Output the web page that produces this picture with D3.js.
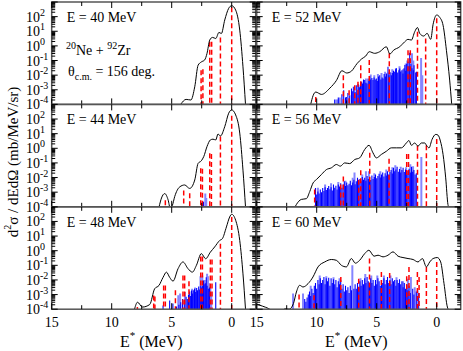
<!DOCTYPE html>
<meta charset="utf-8">
<title>20Ne + 92Zr excitation spectra</title>
<style>
body { margin: 0; background: #fff; }
svg { font-family: "Liberation Serif", "Times New Roman", serif; background: #fff; }
</style>
<script src="https://cdn.jsdelivr.net/npm/d3@7"></script>
<body>
<script>

// ---- data: [E* (MeV), d2sigma/dEdOmega (mb/MeV/sr)] ----
var curve40 = [[4.25,1e-4],[3.8,2.2e-4],[3.4,2e-4],[3.08,1.6e-3],[2.8,4.8e-2],[2.53,8e-2],[2.25,1.1e-1],[2.06,3e-1],[1.83,2.5],[1.6,3.8],[1.33,3.2],[1.06,8.3],[0.86,7],[0.58,59],[0.25,370],[0,560],[-0.33,280],[-0.67,12],[-0.94,3.7e-2],[-1.15,1e-4]];
var red40 = [[2.55,2.2e-2],[2.4,2.5e-2],[1.83,1.9],[1.67,1.9],[0.94,3.8],[0,440]];
var dark40 = [];
var light40 = [];

var curve44 = [[6.05,1e-4],[5.85,4e-4],[5.58,8e-4],[5.3,3e-4],[5.12,8e-5],[4.95,1.2e-4],[4.75,5e-4],[4.33,2.3e-3],[3.92,3.1e-3],[3.5,1.8e-3],[3.08,6.8e-3],[2.8,9.3e-2],[2.53,1.4e-1],[2.33,2.7e-1],[2.06,1.3],[1.78,3.7],[1.56,4.2],[1.33,3.7],[1.14,9.5],[0.94,6.9],[0.58,30],[0.25,250],[0,420],[-0.33,190],[-0.67,11],[-0.94,3.2e-2],[-1.15,1e-4]];
var red44 = [[5.53,2.8e-4],[4.0,1.3e-3],[3.5,8.3e-4],[2.58,4.3e-2],[2.44,4e-2],[1.83,4.6e-1],[1.69,4e-1],[0.94,6.3],[0,170]];
var dark44 = [[2.42,1.6e-4],[2.35,2.2e-4]];
var light44 = [[2.2,8e-4],[2.12,4e-4]];

var curve48 = [[8.1,1e-4],[7.85,3e-4],[7.44,1.4e-4],[6.83,2.1e-4],[6.42,2.5e-3],[6.06,4.2e-3],[5.72,1.5e-2],[5.44,3.4e-2],[5.17,1.5e-2],[4.89,8.3e-3],[4.47,5.9e-2],[4.06,1.7e-1],[3.64,5.9e-2],[3.28,3.4e-2],[2.94,1e-1],[2.53,6.3e-1],[2.17,2.8e-1],[1.78,7.9e-1],[1.42,1.8],[1.0,5],[0.78,6.6],[0.44,42],[0.17,200],[0,310],[-0.33,120],[-0.67,5],[-0.94,2.6e-2],[-1.15,1e-4]];
var red48 = [[7.86,1.4e-4],[6.5,8.7e-4],[6.4,7.4e-4],[5.67,4.2e-3],[5.53,4.2e-3],[4.69,2e-3],[4.06,2e-2],[3.92,2e-2],[3.56,8.3e-3],[2.58,4e-1],[2.44,4e-1],[1.78,2.5e-1],[1.64,2.5e-1],[0.94,3],[0,200]];
var dark48 = [[5.72,1.8e-4],[5.17,4e-4],[4.9,2.5e-4],[4.6,1.5e-4],[4.4,2e-4],[4.25,3e-4],[4.1,5e-4],[3.95,4e-4],[3.8,7e-4],[3.7,5e-4],[3.6,1e-3],[3.5,1.6e-3],[3.42,8e-4],[3.35,1.9e-3],[3.28,1.2e-3],[3.2,2e-3],[3.1,2.5e-3],[3.0,1.5e-3],[2.92,2.8e-3],[2.85,2e-3],[2.75,3.5e-3],[2.67,2.2e-3],[2.58,4.2e-3],[2.5,3e-3],[2.42,3.8e-3],[2.35,9e-3],[2.3,5e-3],[2.2,6e-3],[2.12,1.5e-2],[2.05,4e-3],[1.95,2.5e-3],[1.85,3e-3],[1.33,7e-3]];
var light48 = [[4.45,9e-4],[4.3,1.2e-3],[3.9,1.5e-3],[3.3,2.5e-3],[3.05,3e-3],[2.6,1.8e-2],[2.45,2e-2],[2.25,1e-2],[2.05,2.6e-2],[1.98,1.8e-2],[1.9,6e-3],[1.78,3e-3],[1.7,1.5e-3]];

var curve52 = [[10.5,1e-4],[10.3,4e-4],[10.08,7e-4],[9.6,4.8e-4],[8.9,1.3e-3],[8.36,4.3e-3],[7.9,2e-2],[7.5,1.4e-2],[7.1,1.9e-2],[6.65,6e-2],[6.25,1.3e-1],[5.92,2e-1],[5.62,4e-1],[5.17,3.1e-1],[4.75,4e-1],[4.2,8.7e-1],[3.9,2.8e-1],[3.6,5e-1],[3.08,8.7e-1],[2.67,1.9],[2.39,2.8],[2.11,2.5],[1.83,9.3],[1.6,18],[1.42,7.2],[1.08,4.7],[0.8,7.2],[0.5,2.8],[0.3,30],[0,130],[-0.25,90],[-0.53,26],[-0.81,5e-1],[-1.08,4.6e-3],[-1.25,1e-4]];
var red52 = [[10.08,3.2e-4],[7.78,1e-2],[7.3,9.3e-4],[6.83,2e-3],[6.56,3.5e-3],[6.33,4.8e-2],[5.62,1.1e-1],[3.95,3.1e-1],[2.39,5.1e-1],[2.2,5e-1],[1.6,9.3],[0.92,3.2],[0,76]];
var dark52 = [[8.5,2.2e-4],[8.2,3e-4],[7.9,5e-4],[7.75,9.3e-4],[7.6,3e-4],[7.53,3.2e-4],[7.4,6e-4],[7.25,4.3e-4],[7.1,1.2e-3],[7.0,8e-4],[6.9,1.6e-3],[6.8,7e-4],[6.7,2e-3],[6.64,5.6e-4],[6.55,2.5e-3],[6.45,1.5e-3],[6.35,2.7e-3],[6.25,3.5e-3],[6.19,2.7e-3],[6.1,5e-3],[6.0,4.6e-3],[5.9,3e-3],[5.81,2.7e-3],[5.72,6e-3],[5.65,4e-3],[5.58,8.5e-3],[5.5,5e-3],[5.4,6.5e-3],[5.31,4.6e-3],[5.22,7e-3],[5.12,5e-3],[5.03,5.9e-3],[4.95,4e-3],[4.85,8e-3],[4.75,1e-2],[4.65,5e-3],[4.55,7e-3],[4.47,6e-3],[4.38,1.2e-2],[4.28,8e-3],[4.19,1.3e-2],[4.06,3.7e-2],[3.98,1e-2],[3.88,1.6e-2],[3.78,1e-2],[3.7,1.4e-2],[3.6,2e-2],[3.5,1.7e-2],[3.42,2.5e-2],[3.36,3e-2],[3.25,1.5e-2],[3.15,2.2e-2],[3.08,2.9e-2],[3.0,1.8e-2],[2.9,2.2e-2],[2.81,1.3e-2],[2.72,3e-2],[2.65,5e-2],[2.58,2e-2],[2.5,6e-2],[2.39,8.1e-2],[2.3,4e-2],[2.25,3.4e-1],[2.15,6e-2],[2.06,3e-2],[1.95,2.2e-2],[1.89,4.8e-2],[1.75,1.5e-2],[1.69,1.7e-2]];
var light52 = [[8.36,2.2e-4],[8.25,2.2e-4],[8.08,3e-4],[6.92,1.6e-3],[6.5,2e-3],[5.9,6e-3],[5.5,1.1e-2],[5.2,1e-2],[4.9,1.2e-2],[4.6,1.4e-2],[4.3,1.7e-2],[4.0,1.5e-2],[3.7,2.5e-2],[3.4,3e-2],[3.1,4e-2],[2.81,2.5e-2],[2.58,6.3e-2],[2.45,1e-1],[2.06,3.1e-1],[1.95,1e-1],[1.3,1.5e-1],[1.2,1e-2]];

var curve56 = [[11.8,1e-4],[11.7,1.4e-4],[11.28,3.2e-4],[10.86,3.6e-4],[10.58,1.1e-3],[10.3,4.3e-3],[10.03,7.2e-3],[9.61,1.6e-2],[9.19,3.5e-2],[8.78,4.6e-2],[8.36,7.8e-2],[8.03,6e-2],[7.67,1e-1],[7.25,9e-2],[6.83,1.7e-1],[6.42,2.2e-1],[6.0,8.3e-1],[5.64,1.6],[5.31,4.9e-1],[5.03,2.2e-1],[4.61,3.8e-1],[4.19,6.3e-1],[3.78,1.07],[3.36,1.07],[2.94,1.07],[2.53,2.3],[2.31,3.4],[2.11,1.6],[1.83,2.3],[1.56,1.4],[1.28,2.3],[1.0,2.3],[0.81,1.4],[0.64,1.07],[0.39,4],[0.08,8.9],[-0.11,7.9],[-0.31,3.1],[-0.53,3.8e-1],[-0.75,9.5e-3],[-0.94,1.4e-4],[-1.0,1e-4]];
var red56 = [[10.17,1.5e-3],[8.0,3.3e-3],[7.78,1.2e-2],[6.5,7.2e-3],[6.33,3.2e-2],[5.58,5e-1],[3.97,1.9e-1],[2.5,4e-1],[2.35,4e-1],[1.6,1.5],[0.86,1.6],[0,4.3]];
var dark56 = [[10.1,1.9e-3],[10.0,6.9e-4],[9.9,1.1e-3],[9.8,8e-4],[9.7,1.5e-3],[9.6,1e-3],[9.5,1.9e-3],[9.4,1.2e-3],[9.3,2.2e-3],[9.2,1.4e-3],[9.1,1.9e-3],[9.0,2.6e-3],[8.9,1.6e-3],[8.8,2.2e-3],[8.7,1.3e-3],[8.6,3.3e-3],[8.5,2e-3],[8.4,2.7e-3],[8.3,1.5e-3],[8.2,3.3e-3],[8.1,2.4e-3],[8.0,4e-3],[7.9,2e-3],[7.8,3.3e-3],[7.7,5.6e-3],[7.6,2.6e-3],[7.5,4.5e-3],[7.4,3e-3],[7.3,3.8e-3],[7.2,6e-3],[7.1,3e-3],[7.0,4.5e-3],[6.9,7e-3],[6.8,3.5e-3],[6.7,5.6e-3],[6.6,9.5e-3],[6.5,4.5e-3],[6.4,8e-3],[6.3,5.6e-3],[6.2,1.1e-2],[6.1,7e-3],[6.0,9.5e-3],[5.9,6e-3],[5.8,1.3e-2],[5.7,8e-3],[5.6,1e-2],[5.5,6.9e-3],[5.4,1.4e-2],[5.3,8e-3],[5.2,1.1e-2],[5.1,1.6e-2],[5.0,9e-3],[4.9,1.3e-2],[4.8,1.8e-2],[4.7,1e-2],[4.6,1.6e-2],[4.5,2.2e-2],[4.4,1.2e-2],[4.3,2e-2],[4.2,1.4e-2],[4.1,2.7e-2],[4.0,1.6e-2],[3.9,2.4e-2],[3.8,3.3e-2],[3.7,1.9e-2],[3.6,4.6e-2],[3.5,2.7e-2],[3.4,3.5e-2],[3.3,5.5e-2],[3.2,2.5e-2],[3.1,3.8e-2],[3.0,2.2e-2],[2.9,3.3e-2],[2.8,4.6e-2],[2.7,2.4e-2],[2.6,3.5e-2],[2.5,1.8e-2],[2.4,2.8e-2],[2.3,4e-2],[2.2,2.2e-2],[2.1,5.5e-2],[2.0,2.5e-2],[1.9,3.3e-2],[1.8,1.6e-2],[1.7,2e-2]];
var light56 = [[9.9,2e-3],[9.3,3.3e-3],[8.8,4e-3],[8.2,5e-3],[7.6,6e-3],[7.0,9.5e-3],[6.85,2.2e-2],[6.2,1.6e-2],[5.9,2.7e-2],[5.65,2.7e-2],[5.2,2e-2],[4.7,2.7e-2],[4.2,3.5e-2],[3.7,5e-2],[3.45,7e-2],[3.0,5.5e-2],[2.55,5e-2],[2.2,8e-2],[1.97,6e-2],[1.28,2.5e-1]];

var curve60 = [[15,2.2e-4],[14.5,1.6e-4],[14.0,1.1e-4],[13.7,8e-5],[12.9,8e-5],[12.6,1.1e-4],[12.3,1e-4],[11.94,2.4e-4],[11.69,1.5e-3],[11.42,4.3e-3],[11.14,3.3e-3],[10.72,5.6e-3],[10.31,1.6e-2],[9.89,7.8e-2],[9.33,1.7e-1],[8.78,2.5e-1],[8.36,2.2e-1],[7.94,1e-1],[7.53,7.8e-2],[7.11,2.9e-1],[6.78,1.4e-1],[6.42,2.2e-1],[6.0,6.3e-1],[5.65,1.07],[5.22,4.2e-1],[4.89,4.9e-1],[4.47,3.8e-1],[4.06,4.9e-1],[3.64,8.3e-1],[3.22,4.2e-1],[2.81,3.4e-1],[2.39,2.9e-1],[1.97,2.5e-1],[1.56,1.7e-1],[1.19,2.9e-1],[0.86,7.8e-2],[0.58,1.7e-1],[0.3,2.9e-1],[-0.05,3.4e-1],[-0.33,1.7e-1],[-0.61,5.6e-3],[-0.89,1.4e-4],[-0.95,1e-4]];
var red60 = [[11.47,1e-3],[10.22,9e-4],[7.99,1.6e-2],[6.5,1.2e-2],[5.6,2.9e-1],[4.61,3.5e-2],[3.92,3e-2],[2.5,1.8e-2],[2.31,7.8e-2],[1.61,3.5e-2],[1.47,1.6e-2],[0.86,7.8e-2],[0,1.7e-1]];
var dark60 = [[11.0,5e-4],[10.9,3.2e-4],[10.8,6.3e-4],[10.7,1e-3],[10.6,1.6e-3],[10.5,8e-4],[10.4,2.5e-3],[10.3,1.3e-3],[10.2,4e-3],[10.1,6.3e-3],[10.0,2.5e-3],[9.9,1e-2],[9.8,5e-3],[9.7,1.3e-2],[9.6,6.3e-3],[9.5,1e-2],[9.4,1.6e-2],[9.3,5e-3],[9.2,1.3e-2],[9.1,8e-3],[9.0,1.4e-2],[8.9,4e-3],[8.8,1.3e-2],[8.7,6.3e-3],[8.6,1.1e-2],[8.5,5e-3],[8.4,1e-2],[8.3,3.2e-3],[8.2,8e-3],[8.1,5e-3],[8.0,1e-2],[7.9,2.5e-3],[7.8,5e-3],[7.7,1.6e-3],[7.6,4e-3],[7.5,2e-3],[7.4,3.2e-3],[7.3,1.3e-3],[7.2,4e-3],[7.1,2e-3],[6.9,2.5e-3],[6.8,5e-3],[6.7,2.5e-3],[6.6,6.3e-3],[6.5,3.2e-3],[6.4,8e-3],[6.3,4e-3],[6.2,1e-2],[6.1,5e-3],[6.0,1.3e-2],[5.9,6.3e-3],[5.8,1.6e-2],[5.7,8e-3],[5.6,4e-3],[5.5,1.3e-2],[5.4,6.3e-3],[5.3,1e-2],[5.2,4e-3],[5.1,1e-2],[5.0,5e-3],[4.9,1.3e-2],[4.8,8e-3],[4.7,4e-3],[4.6,1e-2],[4.5,6.3e-3],[4.4,1.3e-2],[4.3,5e-3],[4.2,1e-2],[4.1,1.6e-2],[4.0,6.3e-3],[3.9,1e-2],[3.8,5e-3],[3.7,1.3e-2],[3.6,8e-3],[3.5,1e-2],[3.4,4e-3],[3.3,1e-2],[3.2,6.3e-3],[3.1,1.1e-2],[3.0,5e-3],[2.9,8e-3],[2.8,3.2e-3],[2.7,6.3e-3],[2.6,2.5e-3],[2.5,5e-3],[2.4,2e-3],[2.3,4e-3],[2.2,1.3e-3],[2.0,2.5e-3],[1.9,1e-3],[1.7,1.6e-3],[1.5,1.3e-3]];
var light60 = [[11.97,1.2e-3],[11.14,1.2e-3],[10.5,4e-3],[9.75,2e-2],[9.2,1.8e-2],[8.6,1.5e-2],[8.1,1.3e-2],[7.03,1e-1],[6.35,1.3e-2],[5.95,2.5e-2],[5.45,2e-2],[4.95,2e-2],[4.4,2e-2],[3.85,2e-2],[3.35,1.5e-2],[2.8,8e-3],[2.4,1.2e-2],[2.15,1.6e-2],[1.83,3.2e-3],[1.6,2e-3]];

var xTicks = [15, 12.5, 10, 7.5, 5, 2.5, 0];
var xTickLabels = [15, 10, 5, 0];
var yDecades = [-4, -3, -2, -1, 0, 1, 2, 3];

// ---- layout ----
var width = 463, height = 351;
var cols = [[51.7, 255.7], [256.7, 460.7]];
var rowTop = [2, 104.4, 206.8], rowH = 102.4;

var panels = [
  {col: 0, row: 0, label: "E = 40 MeV", curve: curve40, red: red40, dark: dark40, light: light40},
  {col: 0, row: 1, label: "E = 44 MeV", curve: curve44, red: red44, dark: dark44, light: light44},
  {col: 0, row: 2, label: "E = 48 MeV", curve: curve48, red: red48, dark: dark48, light: light48},
  {col: 1, row: 0, label: "E = 52 MeV", curve: curve52, red: red52, dark: dark52, light: light52},
  {col: 1, row: 1, label: "E = 56 MeV", curve: curve56, red: red56, dark: dark56, light: light56},
  {col: 1, row: 2, label: "E = 60 MeV", curve: curve60, red: red60, dark: dark60, light: light60}
];

var svg = d3.select("body").append("svg")
    .attr("width", width)
    .attr("height", height);

panels.forEach(function(p, i) {
  var x0 = cols[p.col][0], x1 = cols[p.col][1];
  var y0 = rowTop[p.row], y1 = y0 + rowH;

  var x = d3.scaleLinear().domain([15, -2]).range([x0, x1]);
  var y = d3.scaleLog().domain([1e-4, 1e3]).range([y1, y0]);

  svg.append("clipPath").attr("id", "clip" + i)
    .append("rect").attr("x", x0).attr("y", y0).attr("width", x1 - x0).attr("height", rowH);

  var g = svg.append("g").attr("clip-path", "url(#clip" + i + ")");

  // light blue bars
  g.selectAll("line.light").data(p.light).enter().append("line")
      .attr("class", "light")
      .attr("x1", function(d) { return x(d[0]); })
      .attr("x2", function(d) { return x(d[0]); })
      .attr("y1", y(1e-4))
      .attr("y2", function(d) { return y(d[1]); })
      .attr("stroke", "#8585ff")
      .attr("stroke-width", 2);

  // dark blue bars
  g.selectAll("line.dark").data(p.dark).enter().append("line")
      .attr("class", "dark")
      .attr("x1", function(d) { return x(d[0]); })
      .attr("x2", function(d) { return x(d[0]); })
      .attr("y1", y(1e-4))
      .attr("y2", function(d) { return y(d[1]); })
      .attr("stroke", "#0000ff")
      .attr("stroke-width", 1.1);

  // red dashed lines
  g.selectAll("line.red").data(p.red).enter().append("line")
      .attr("class", "red")
      .attr("x1", function(d) { return x(d[0]); })
      .attr("x2", function(d) { return x(d[0]); })
      .attr("y1", function(d) { return y(d[1]); })
      .attr("y2", y(1e-4))
      .attr("stroke", "#ff0000")
      .attr("stroke-width", 1.5)
      .attr("stroke-dasharray", "5,3");

  // black curve
  var line = d3.line()
      .x(function(d) { return x(d[0]); })
      .y(function(d) { return y(d[1]); })
      .curve(d3.curveMonotoneX);
  g.append("path")
      .datum(p.curve)
      .attr("d", line)
      .attr("fill", "none")
      .attr("stroke", "#000")
      .attr("stroke-width", 1);

  // frame
  svg.append("rect")
      .attr("x", x0).attr("y", y0)
      .attr("width", x1 - x0).attr("height", rowH)
      .attr("fill", "none")
      .attr("stroke", "#555")
      .attr("stroke-width", 1.5);

  // y ticks (both sides, inward)
  var yt = [];
  yDecades.forEach(function(n) {
    yt.push({v: Math.pow(10, n), major: true});
    if (n < 3) for (var k = 2; k <= 9; k++) yt.push({v: k * Math.pow(10, n), major: false});
  });
  var tg = svg.append("g").attr("stroke", "#000").attr("stroke-width", 1);
  yt.forEach(function(t) {
    var len = t.major ? 6 : 3.5, yy = y(t.v);
    tg.append("line").attr("x1", x0).attr("x2", x0 + len).attr("y1", yy).attr("y2", yy);
    tg.append("line").attr("x1", x1).attr("x2", x1 - len).attr("y1", yy).attr("y2", yy);
  });
  xTicks.forEach(function(t) {
    var len = (t % 5 === 0) ? 6 : 4, xx = x(t);
    tg.append("line").attr("x1", xx).attr("x2", xx).attr("y1", y0).attr("y2", y0 + len);
    tg.append("line").attr("x1", xx).attr("x2", xx).attr("y1", y1).attr("y2", y1 - len);
  });

  // y tick labels on left column
  if (p.col === 0) {
    yDecades.slice(0, 7).forEach(function(n) {
      var t = svg.append("text")
          .attr("x", 26).attr("y", y(Math.pow(10, n)) + 5)
          .style("font-size", "14px");
      t.append("tspan").text("10");
      t.append("tspan").attr("dy", -6).style("font-size", "10px").text(n);
    });
  }

  // x tick labels on bottom row
  if (p.row === 2) {
    xTickLabels.forEach(function(v) {
      svg.append("text")
          .attr("x", x(v)).attr("y", 327)
          .attr("text-anchor", "middle")
          .style("font-size", "14px")
          .text(v);
    });
    var xl = svg.append("text")
        .attr("x", x(6.7)).attr("y", 347)
        .attr("text-anchor", "middle")
        .style("font-size", "16px");
    xl.append("tspan").text("E");
    xl.append("tspan").attr("dy", -8).style("font-size", "11px").text("*");
    xl.append("tspan").attr("dy", 8).text(" (MeV)");
  }

  // energy label
  svg.append("text")
      .attr("x", x0 + 15)
      .attr("y", y0 + 20)
      .style("font-size", "14px")
      .text(p.label);
});

// reaction annotation
var r = svg.append("text").attr("x", 66).attr("y", 55).style("font-size", "14px");
r.append("tspan").attr("dy", -6).style("font-size", "10px").text("20");
r.append("tspan").attr("dy", 6).text("Ne + ");
r.append("tspan").attr("dy", -6).style("font-size", "10px").text("92");
r.append("tspan").attr("dy", 6).text("Zr");

var th = svg.append("text").attr("x", 68).attr("y", 76).style("font-size", "14px");
th.append("tspan").text("θ");
th.append("tspan").attr("dy", 4).style("font-size", "10px").text("c.m.");
th.append("tspan").attr("dy", -4).text(" = 156 deg.");

// y axis title
var yl = svg.append("text")
    .attr("transform", "translate(18,162) rotate(-90)")
    .attr("text-anchor", "middle")
    .style("font-size", "15px");
yl.append("tspan").text("d");
yl.append("tspan").attr("dy", -7).style("font-size", "10px").text("2");
yl.append("tspan").attr("dy", 7).text("σ / dEdΩ (mb/MeV/sr)");

</script>
